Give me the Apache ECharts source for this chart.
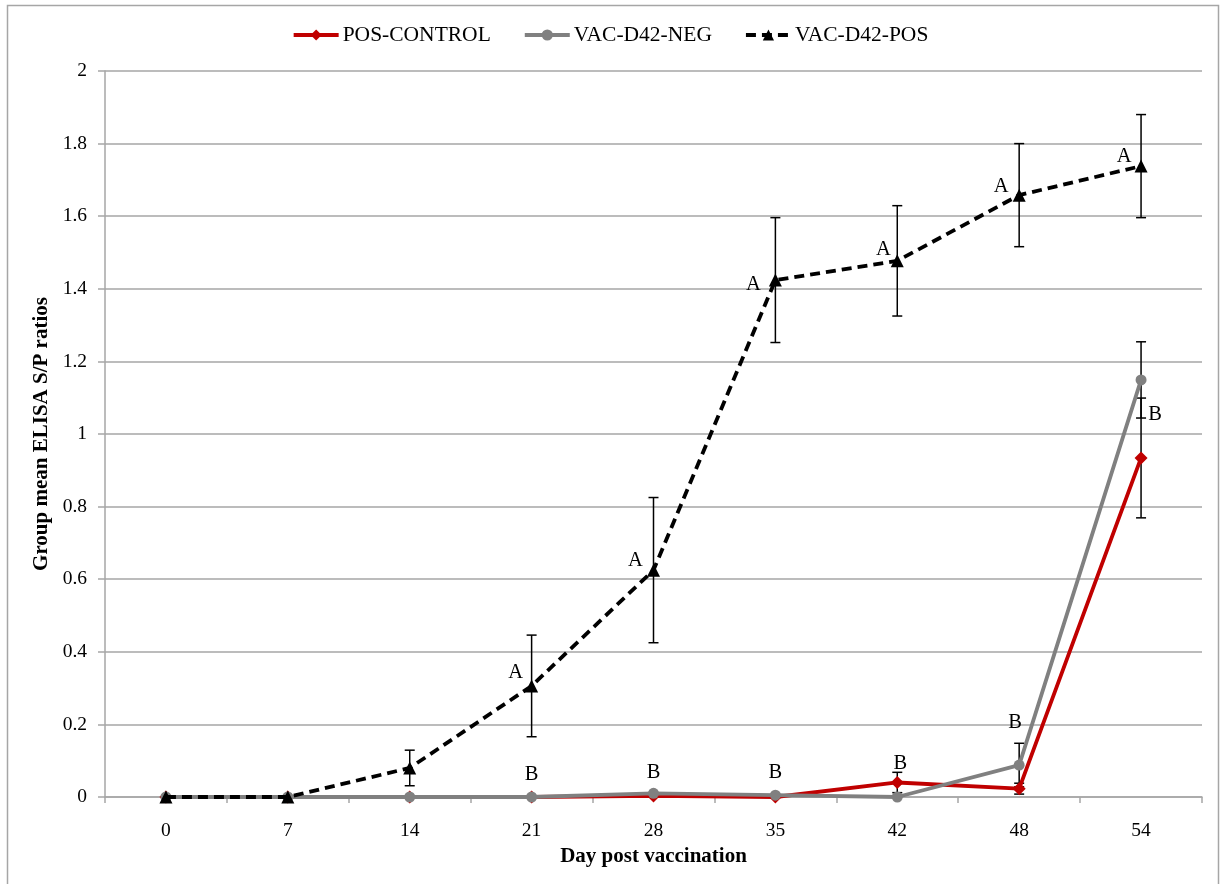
<!DOCTYPE html>
<html>
<head>
<meta charset="utf-8">
<script src="https://cdn.jsdelivr.net/npm/echarts@6/dist/echarts.min.js"></script>
<style>html,body{margin:0;padding:0;background:#fff}#c{width:1220px;height:884px}</style>
</head>
<body>
<div id="c"></div>
<script>
// ---- data ----
const days = ['0', '7', '14', '21', '28', '35', '42', '48', '54'];
const posControl    = [0, 0, 0, 0, 0.003, 0, 0.040, 0.023, 0.934];
const posControlErr = [0, 0, 0, 0, 0, 0, 0.028, 0.015, 0.165];
const vacNeg        = [0, 0, 0, 0, 0.010, 0.005, 0, 0.088, 1.149];
const vacNegErr     = [0, 0, 0, 0, 0, 0, 0, 0.060, 0.105];
const vacPos        = [0, 0, 0.080, 0.306, 0.625, 1.424, 1.477, 1.658, 1.738];
const vacPosErr     = [0, 0, 0.049, 0.140, 0.200, 0.172, 0.152, 0.142, 0.142];
const lettersPos  = ['', '', '', 'A', 'A', 'A', 'A', 'A', 'A'];
const lettersCtrl = ['', '', '', 'B', 'B', 'B', 'B', 'B', 'B'];
const yTicks = [0, 0.2, 0.4, 0.6, 0.8, 1, 1.2, 1.4, 1.6, 1.8, 2];

// ---- layout of letters (pixel offsets from anchor point) ----
const offPos  = [[0,0],[0,0],[0,0],[-16,-13],[-18,-10],[-22,5],[-14,-11],[-18,-9],[-17,-9]];
const offCtrl = [[0,0],[0,0],[0,0],[0,-22],[0,-21],[0,-23],[3,-19],[-4,-42],[14,-43]];
const ctrlAnchor = [0, 0, 0, 0, 0.01, 0.005, 0.04, 0.088, 0.934];

const FONT = 'Liberation Serif';

function errData(vals, errs) {
  const out = [];
  vals.forEach((v, i) => { if (errs[i] > 0) out.push([days[i], v - errs[i], v + errs[i]]); });
  return out;
}
const allErr = errData(posControl, posControlErr)
  .concat(errData(vacNeg, vacNegErr))
  .concat(errData(vacPos, vacPosErr));

const letterData = [];
const letterOff = [];
lettersPos.forEach((t, i) => { if (t) { letterData.push([days[i], vacPos[i], t]); letterOff.push(offPos[i]); } });
lettersCtrl.forEach((t, i) => { if (t) { letterData.push([days[i], ctrlAnchor[i], t]); letterOff.push(offCtrl[i]); } });

const chart = echarts.init(document.getElementById('c'), null, {renderer: 'canvas'});
chart.setOption({
  animation: false,
  backgroundColor: '#fff',
  textStyle: {fontFamily: FONT, color: '#000'},
  graphic: [{
    type: 'rect', silent: true,
    shape: {x: 7.5, y: 5.5, width: 1211, height: 900},
    style: {fill: 'none', stroke: '#a6a6a6', lineWidth: 1.5}
  }],
  legend: {
    top: 19, left: 'center',
    data: ['POS-CONTROL', 'VAC-D42-NEG', 'VAC-D42-POS'],
    itemWidth: 45, itemHeight: 14, itemGap: 32,
    lineStyle: {width: 4},
    textStyle: {fontFamily: FONT, fontSize: 21.5, color: '#000', padding: [0, 0, 0, -1]}
  },
  grid: {left: 105, right: 18, top: 71, bottom: 87},
  xAxis: {
    type: 'category', data: days, boundaryGap: true,
    name: 'Day post vaccination', nameLocation: 'middle', nameGap: 46,
    nameTextStyle: {fontFamily: FONT, fontSize: 21, fontWeight: 'bold', color: '#000'},
    axisLine: {lineStyle: {color: '#a6a6a6', width: 1.5}},
    axisTick: {show: true, length: 6, lineStyle: {color: '#a6a6a6', width: 1.5}},
    axisLabel: {fontFamily: FONT, fontSize: 19.5, color: '#000', margin: 24},
    splitLine: {show: false}
  },
  yAxis: {
    type: 'value', min: 0, max: 2, interval: 0.2,
    name: 'Group mean ELISA S/P ratios', nameLocation: 'middle', nameGap: 52,
    nameTextStyle: {fontFamily: FONT, fontSize: 21, fontWeight: 'bold', color: '#000'},
    axisLine: {show: true, lineStyle: {color: '#a6a6a6', width: 1.5}},
    axisTick: {show: true, length: 7, lineStyle: {color: '#a6a6a6', width: 1.5}},
    axisLabel: {fontFamily: FONT, fontSize: 19.5, color: '#000', margin: 18,
      formatter: v => yTicks.indexOf(+v.toFixed(1)) >= 0 ? String(+v.toFixed(1)) : ''},
    splitLine: {lineStyle: {color: '#a6a6a6', width: 1.5}}
  },
  series: [
    {
      type: 'custom', name: 'err', z: 1, silent: true,
      data: allErr,
      renderItem: function (params, api) {
        const lo = api.coord([api.value(0), api.value(1)]);
        const hi = api.coord([api.value(0), api.value(2)]);
        const x = lo[0], cw = 5;
        const st = {stroke: '#000', lineWidth: 1.5};
        return {type: 'group', children: [
          {type: 'line', shape: {x1: x, y1: lo[1], x2: x, y2: hi[1]}, style: st},
          {type: 'line', shape: {x1: x - cw, y1: lo[1], x2: x + cw, y2: lo[1]}, style: st},
          {type: 'line', shape: {x1: x - cw, y1: hi[1], x2: x + cw, y2: hi[1]}, style: st}
        ]};
      }
    },
    {
      name: 'POS-CONTROL', type: 'line', data: posControl, z: 3,
      symbol: 'diamond', symbolSize: 13,
      lineStyle: {color: '#c00000', width: 3.8},
      itemStyle: {color: '#c00000'}
    },
    {
      name: 'VAC-D42-NEG', type: 'line', data: vacNeg, z: 4,
      symbol: 'circle', symbolSize: 11,
      lineStyle: {color: '#808080', width: 3.8},
      itemStyle: {color: '#808080'}
    },
    {
      name: 'VAC-D42-POS', type: 'line', data: vacPos, z: 5,
      symbol: 'triangle', symbolSize: 13,
      lineStyle: {color: '#000', width: 3.8, type: [10, 6]},
      itemStyle: {color: '#000'}
    },
    {
      type: 'custom', name: 'letters', z: 6, silent: true,
      data: letterData,
      renderItem: function (params, api) {
        const p = api.coord([api.value(0), api.value(1)]);
        const o = letterOff[params.dataIndex];
        return {type: 'text', style: {
          x: p[0] + o[0], y: p[1] + o[1], text: letterData[params.dataIndex][2],
          fontFamily: FONT, fontSize: 20.5, fill: '#000', align: 'center', verticalAlign: 'middle'
        }};
      }
    }
  ]
});
</script>
</body>
</html>
